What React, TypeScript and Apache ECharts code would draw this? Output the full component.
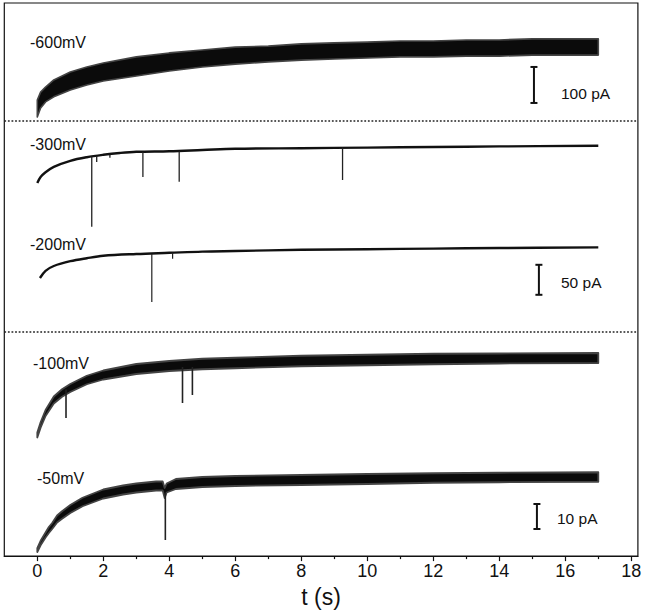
import React, { useEffect, useRef } from "react";
import * as echarts from "echarts";

// ---------- data (pA, relative to each trace's start level) ----------
// -600 mV : noisy band, lower / upper envelope
const t600 = [0, 0.1, 0.25, 0.5, 1, 1.5, 2, 3, 4, 5, 6, 7, 8, 9, 10, 11, 12, 13, 14, 15, 16, 17];
const lo600 = [0, 25, 42, 56, 75, 89, 100, 114, 128, 139, 147, 153, 158, 161, 164, 167, 167, 169, 169, 172, 172, 172];
const hi600 = [47, 69, 83, 103, 125, 139, 150, 167, 178, 186, 194, 197, 203, 206, 208, 211, 211, 214, 214, 217, 217, 217];

// -300 mV : thin trace
const t300 = [0, 0.1, 0.25, 0.5, 1, 1.5, 2, 2.5, 3, 4, 5, 6, 8, 10, 12, 14, 17];
const v300 = [0, 10, 18, 27, 37, 43, 47, 50, 52, 53, 55, 57, 58, 59, 60, 61, 62];
// spikes: [t, from, to]
const spikes300 = [[1.65, 44, -73], [1.8, 45, 35], [2.2, 47, 42], [3.2, 52, 10], [4.3, 53, 2], [9.25, 59, 5]];

// -200 mV : thin trace
const t200 = [0.08, 0.25, 0.5, 1, 1.5, 2, 3, 4, 5, 6, 8, 10, 12, 14, 17];
const v200 = [0, 12, 20, 28, 33, 37, 40, 42, 44, 45, 47, 48, 49, 50, 51];
const spikes200 = [[3.47, 40, -40], [4.1, 42, 32]];

// -100 mV : noisy band
const t100 = [0, 0.1, 0.25, 0.5, 0.75, 1, 1.5, 2, 2.5, 3, 4, 5, 6, 8, 10, 12, 14, 17];
const lo100 = [-0.2, 3.7, 8.4, 13.4, 16.1, 18.0, 21.1, 23.0, 24.1, 25.2, 26.4, 27.1, 27.5, 28.3, 28.7, 29.1, 29.4, 29.6];
const hi100 = [1.8, 5.9, 10.8, 16.2, 19.1, 21.2, 24.5, 26.6, 27.9, 29.2, 30.4, 31.3, 31.7, 32.5, 32.9, 33.3, 33.4, 33.6];
const spikes100 = [[0.87, 19, 7.6], [4.4, 28, 13.6], [4.7, 28, 16.8]];

// -50 mV : noisy band
const t50 = [0, 0.1, 0.25, 0.35, 0.45, 0.6, 0.75, 1, 1.37, 2, 2.6, 3, 3.6, 3.8, 3.86, 3.92, 4.2, 5, 6, 8, 10, 12, 14, 17];
const lo50 = [0.4, 3.1, 6.2, 8.0, 9.6, 12.2, 13.7, 16.0, 18.7, 21.8, 23.4, 24.2, 25.0, 25.0, 22.0, 24.2, 25.6, 26.4, 26.8, 27.2, 27.6, 28.1, 28.3, 28.5];
const hi50 = [2.0, 4.9, 8.2, 10.4, 12.0, 15.0, 16.7, 19.2, 22.1, 25.4, 27.0, 27.8, 28.6, 28.6, 26.0, 27.8, 29.6, 30.4, 30.8, 31.2, 31.6, 31.9, 32.1, 32.3];
const spikes50 = [[3.88, 24, 5.2]];

// trace labels and scale bars
const traceLabels = ["-600mV", "-300mV", "-200mV", "-100mV", "-50mV"];
const scaleBarLabels = ["100 pA", "50 pA", "10 pA"];
const scaleBarValues = [100, 50, 10];

// x axis ticks
const majorTicks = [0, 2, 4, 6, 8, 10, 12, 14, 16, 18];
const minorTicks = [1, 3, 5, 7, 9, 11, 13, 15, 17];

// ---------- layout ----------
const FONT = "'Liberation Sans', Arial, Helvetica, sans-serif";
const X_MIN = -1;
const X_MAX = 18.2;
const GRID_LEFT = 4.3;
const GRID_WIDTH = 633.6;
const FRAME_TOP = 3;
const FRAME_BOTTOM = 564;

// baseY: pixel row of 0 pA, k: px per pA
const layouts = [
  { baseY: 117, k: 0.36, min: -20, max: 300 },
  { baseY: 183, k: 0.6, min: -90, max: 80 },
  { baseY: 278, k: 0.6, min: -50, max: 70 },
  { baseY: 437, k: 2.5, min: -6, max: 40 },
  { baseY: 553, k: 2.5, min: -6, max: 40 },
];

const zip3 = (a: number[], b: number[], c: number[]) => a.map((v, i) => [v, b[i], c[i]]);
const zip2 = (a: number[], b: number[]) => a.map((v, i) => [v, b[i]]);

export default function App() {
  const ref = useRef<HTMLDivElement>(null);

  useEffect(() => {
    if (!ref.current) return;
    const chart = echarts.init(ref.current, null, { renderer: "svg" });

    const grids: any[] = [
      {
        left: GRID_LEFT,
        width: GRID_WIDTH,
        top: FRAME_TOP,
        height: FRAME_BOTTOM - FRAME_TOP,
        show: true,
        borderColor: "#111",
        borderWidth: 1.2,
        backgroundColor: "transparent",
      },
    ];
    layouts.forEach((l) => {
      grids.push({
        left: GRID_LEFT,
        width: GRID_WIDTH,
        top: l.baseY - l.max * l.k,
        height: (l.max - l.min) * l.k,
        show: false,
      });
    });

    const xAxes: any[] = [
      {
        type: "value",
        gridIndex: 0,
        position: "bottom",
        min: X_MIN,
        max: X_MAX,
        axisLine: { show: true, lineStyle: { color: "#111", width: 1.2 } },
        axisTick: { show: true, customValues: majorTicks, length: 5, lineStyle: { color: "#111", width: 1.2 } },
        axisLabel: {
          customValues: majorTicks,
          margin: 6,
          fontSize: 18,
          fontFamily: FONT,
          color: "#111",
        },
        splitLine: { show: false },
        name: "t (s)",
        nameLocation: "middle",
        nameGap: 24,
        nameTextStyle: { fontSize: 23, fontFamily: FONT, color: "#111" },
      },
      {
        type: "value",
        gridIndex: 0,
        position: "bottom",
        min: X_MIN,
        max: X_MAX,
        axisLine: { show: false },
        axisTick: { show: true, customValues: minorTicks, length: 3, lineStyle: { color: "#111", width: 1.2 } },
        axisLabel: { show: false },
        splitLine: { show: false },
      },
    ];
    const yAxes: any[] = [
      { type: "value", gridIndex: 0, min: 0, max: 1, show: false, splitLine: { show: false } },
    ];
    layouts.forEach((l, i) => {
      xAxes.push({ type: "value", gridIndex: i + 1, min: X_MIN, max: X_MAX, show: false, splitLine: { show: false } });
      yAxes.push({ type: "value", gridIndex: i + 1, min: l.min, max: l.max, show: false, splitLine: { show: false } });
    });

    const bandSeries = (idx: number, data: number[][], edge: number) => ({
      type: "custom",
      xAxisIndex: idx + 2,
      yAxisIndex: idx + 1,
      data,
      clip: false,
      renderItem: (params: any, api: any) => {
        if (params.dataIndexInside !== 0) return null;
        const n = params.dataInsideLength;
        const top: number[][] = [];
        const bot: number[][] = [];
        for (let i = 0; i < n; i++) {
          const t = api.value(0, i);
          top.push(api.coord([t, api.value(2, i)]));
          bot.push(api.coord([t, api.value(1, i)]));
        }
        return {
          type: "polygon",
          shape: { points: top.concat(bot.reverse()) },
          style: { fill: "#0b0b0b", stroke: "#444", lineWidth: edge, lineJoin: "round" },
        };
      },
    });

    const lineSeries = (idx: number, data: number[][]) => ({
      type: "custom",
      xAxisIndex: idx + 2,
      yAxisIndex: idx + 1,
      data,
      clip: false,
      renderItem: (params: any, api: any) => {
        if (params.dataIndexInside !== 0) return null;
        const n = params.dataInsideLength;
        const pts: number[][] = [];
        for (let i = 0; i < n; i++) pts.push(api.coord([api.value(0, i), api.value(1, i)]));
        return {
          type: "polyline",
          shape: { points: pts, smooth: 0.35 },
          style: { stroke: "#111", lineWidth: 2.4, fill: "none" },
        };
      },
    });

    const spikeSeries = (idx: number, data: number[][], width: number) => ({
      type: "custom",
      xAxisIndex: idx + 2,
      yAxisIndex: idx + 1,
      data,
      clip: false,
      renderItem: (params: any, api: any) => {
        const t = api.value(0);
        const a = api.coord([t, api.value(1)]);
        const b = api.coord([t, api.value(2)]);
        return {
          type: "line",
          shape: { x1: a[0], y1: a[1], x2: b[0], y2: b[1] },
          style: { stroke: "#222", lineWidth: width },
        };
      },
    });

    // scale bars: [t, lowPA, highPA]
    const scaleBarSeries = (idx: number, data: number[][]) => ({
      type: "custom",
      xAxisIndex: idx + 2,
      yAxisIndex: idx + 1,
      data,
      clip: false,
      renderItem: (params: any, api: any) => {
        const t = api.value(0);
        const a = api.coord([t, api.value(1)]);
        const b = api.coord([t, api.value(2)]);
        const st = { stroke: "#111", lineWidth: 2 };
        return {
          type: "group",
          children: [
            { type: "line", shape: { x1: a[0], y1: a[1], x2: b[0], y2: b[1] }, style: st },
            { type: "line", shape: { x1: a[0] - 3.5, y1: a[1], x2: a[0] + 3.5, y2: a[1] }, style: st },
            { type: "line", shape: { x1: b[0] - 3.5, y1: b[1], x2: b[0] + 3.5, y2: b[1] }, style: st },
          ],
        };
      },
    });

    const series: any[] = [
      bandSeries(0, zip3(t600, lo600, hi600), 1.6),
      lineSeries(1, zip2(t300, v300)),
      spikeSeries(1, spikes300, 1.3),
      lineSeries(2, zip2(t200, v200)),
      spikeSeries(2, spikes200, 1.2),
      bandSeries(3, zip3(t100, lo100, hi100), 1.8),
      spikeSeries(3, spikes100, 1.6),
      bandSeries(4, zip3(t50, lo50, hi50), 1.8),
      spikeSeries(4, spikes50, 1.6),
      scaleBarSeries(0, [[15.05, 39, 39 + scaleBarValues[0]]]),
      scaleBarSeries(2, [[15.2, -28, -28 + scaleBarValues[1]]]),
      scaleBarSeries(4, [[15.14, 9.6, 9.6 + scaleBarValues[2]]]),
    ];

    const labelPos = [
      [30, 42],
      [30, 144],
      [30, 244],
      [33, 363],
      [37, 478],
    ];
    const barLabelPos = [
      [561, 93],
      [561, 282],
      [557, 518],
    ];
    const textStyle = (x: number, y: number, text: string, size: number) => ({
      type: "text",
      x,
      y,
      style: { text, fill: "#111", font: `${size}px ${FONT}`, verticalAlign: "middle", align: "left" },
    });

    const graphic: any[] = [
      ...traceLabels.map((s, i) => textStyle(labelPos[i][0], labelPos[i][1], s, 16)),
      ...scaleBarLabels.map((s, i) => textStyle(barLabelPos[i][0], barLabelPos[i][1], s, 15.5)),
      {
        type: "line",
        shape: { x1: GRID_LEFT, y1: 121, x2: GRID_LEFT + GRID_WIDTH, y2: 121 },
        style: { stroke: "#222", lineWidth: 1.6, lineDash: [1.8, 1.8] },
      },
      {
        type: "line",
        shape: { x1: GRID_LEFT, y1: 332, x2: GRID_LEFT + GRID_WIDTH, y2: 332 },
        style: { stroke: "#222", lineWidth: 1.6, lineDash: [1.8, 1.8] },
      },
    ];

    chart.setOption({
      animation: false,
      backgroundColor: "#fff",
      grid: grids,
      xAxis: xAxes,
      yAxis: yAxes,
      series,
      graphic,
    });

    return () => chart.dispose();
  }, []);

  return (
    <div
      ref={ref}
      style={{ position: "fixed", left: 0, top: 0, width: 645, height: 613 }}
    />
  );
}
